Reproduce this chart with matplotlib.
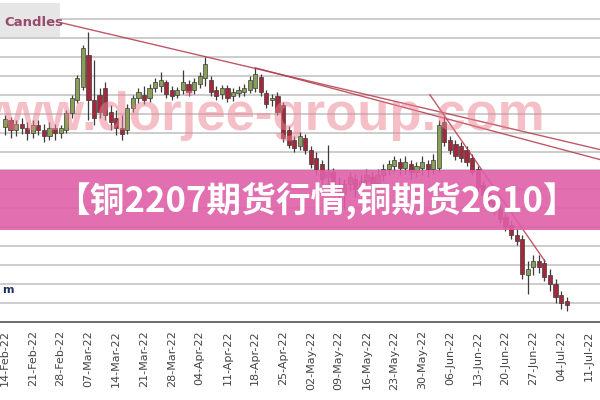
import matplotlib.pyplot as plt
from matplotlib.patches import Rectangle
import numpy as np

# daily copper candles, 14-Feb-22 .. 05-Jul-22 (trading days)
opens = [9579, 9671, 9539, 9618, 9566, 9500, 9605, 9539, 9460, 9566,
         9500, 9539, 9763, 9934, 10105, 10526, 9934, 10000, 10092, 9776,
         9697, 9566, 9539, 9829, 9960, 10000, 9960, 10092, 10118, 10171,
         10066, 10000, 10066, 10145, 10066, 10145, 10224, 10197, 10066, 10013,
         10092, 9987, 10026, 10039, 10066, 10092, 10237, 10026, 9934, 9987,
         9868, 9539, 9408, 9329, 9434, 9276, 9171, 9079, 8908, 8986,
         8802, 8684, 8815, 8881, 8776, 8855, 8908, 8829, 8934, 9013,
         9065, 9118, 9039, 9079, 8986, 9039, 9079, 9013, 9039, 9644,
         9408, 9355, 9329, 9276, 9171, 9013, 8802, 8697, 8592, 8486,
         8381, 8276, 8144, 8092, 7618, 7723, 7802, 7776, 7618, 7499,
         7355, 7276]
highs = [9737, 9710, 9671, 9697, 9644, 9671, 9671, 9618, 9644, 9618,
         9605, 9802, 10000, 10263, 10658, 10829, 10460, 10092, 10171, 9868,
         9802, 9737, 9881, 10000, 10092, 10118, 10145, 10224, 10302, 10197,
         10118, 10105, 10329, 10197, 10224, 10302, 10500, 10250, 10118, 10131,
         10131, 10092, 10118, 10145, 10250, 10355, 10276, 10066, 10013, 10039,
         9908, 9592, 9460, 9513, 9487, 9329, 9250, 9144, 9342, 9039,
         8908, 8881, 8986, 8947, 8934, 9013, 8986, 9013, 9079, 9144,
         9197, 9171, 9197, 9144, 9118, 9197, 9144, 9223, 9671, 9723,
         9460, 9408, 9381, 9329, 9223, 9065, 8855, 8750, 8644, 8552,
         8434, 8328, 8223, 8144, 7802, 7881, 7881, 7828, 7697, 7565,
         7407, 7328]
lows = [9473, 9434, 9460, 9487, 9408, 9434, 9473, 9381, 9408, 9408,
        9434, 9500, 9697, 9895, 10066, 9671, 9605, 9697, 9671, 9539,
        9473, 9408, 9487, 9776, 9895, 9881, 9908, 10039, 10039, 9960,
        9934, 9960, 10013, 9987, 10013, 10092, 10118, 9987, 9934, 9947,
        9908, 9921, 9973, 9987, 10026, 10039, 9987, 9829, 9855, 9737,
        9381, 9302, 9250, 9276, 9223, 9039, 8934, 8802, 8776, 8671,
        8552, 8486, 8723, 8644, 8697, 8776, 8750, 8750, 8855, 8934,
        8986, 8934, 8960, 8881, 8908, 8934, 8908, 8947, 8986, 9329,
        9223, 9144, 9118, 9065, 8934, 8723, 8618, 8513, 8407, 8302,
        8197, 8092, 8013, 7565, 7368, 7618, 7644, 7539, 7407, 7249,
        7170, 7144]
closes = [9684, 9539, 9618, 9566, 9500, 9605, 9539, 9460, 9566, 9500,
          9566, 9763, 9960, 10224, 10618, 9934, 9697, 9776, 9737, 9644,
          9566, 9487, 9829, 9960, 10039, 9934, 10092, 10171, 10197, 10013,
          9987, 10066, 10171, 10039, 10171, 10250, 10408, 10039, 9987, 10092,
          9960, 10039, 10066, 10092, 10197, 10276, 10039, 9881, 9960, 9776,
          9434, 9342, 9302, 9460, 9276, 9079, 9013, 8881, 8986, 8776,
          8684, 8815, 8908, 8750, 8855, 8934, 8829, 8934, 9013, 9092,
          9144, 9039, 9118, 8986, 9065, 9118, 9013, 9144, 9605, 9381,
          9276, 9197, 9171, 9118, 8986, 8776, 8671, 8565, 8460, 8355,
          8250, 8144, 8065, 7631, 7697, 7802, 7723, 7592, 7499, 7328,
          7249, 7223]

week_labels = ['14-Feb-22', '21-Feb-22', '28-Feb-22', '07-Mar-22', '14-Mar-22',
               '21-Mar-22', '28-Mar-22', '04-Apr-22', '11-Apr-22', '18-Apr-22',
               '25-Apr-22', '02-May-22', '09-May-22', '16-May-22', '23-May-22',
               '30-May-22', '06-Jun-22', '13-Jun-22', '20-Jun-22', '27-Jun-22',
               '04-Jul-22', '11-Jul-22']

# trend lines (day index, price)
trend_a = ([9.5, 107.0], [10960, 9276])
trend_b = ([45.0, 107.0], [10355, 9144])
trend_c = ([76.4, 97.1], [10000, 7802])

fig = plt.figure(figsize=(6, 4), dpi=100)
ax = fig.add_axes([0, 0.195, 1, 0.805])

idx = np.arange(len(opens))
o = np.array(opens)
c = np.array(closes)
up = c >= o
cols = np.where(up, '#8a9f55', '#a4283a')

ax.vlines(idx, lows, highs, color='#3c3c3c', lw=0.9, zorder=3)
ax.bar(idx, np.abs(c - o), bottom=np.minimum(o, c), width=0.75,
       color=cols, edgecolor='#3c3c3c', linewidth=0.5, zorder=4)

for tx, ty in (trend_a, trend_b, trend_c):
    ax.plot(tx, ty, color='#b33c4c', lw=1.0, alpha=0.85, zorder=5)

ax.set_xlim(-0.9, 107.0)
ax.set_ylim(7000, 11250)
ax.set_yticks(np.arange(7250, 11001, 250))
ax.yaxis.grid(True, color='#cccccc', lw=1.4, zorder=0)
ax.set_axisbelow(True)
ax.tick_params(axis='y', length=0, labelleft=False)
ax.set_xticks(np.arange(0, 106, 5))
ax.set_xticklabels(week_labels, rotation=90, fontsize=8, color='#444444')
ax.tick_params(axis='x', length=0, pad=6)
for s in ['top', 'right', 'left']:
    ax.spines[s].set_visible(False)
ax.spines['bottom'].set_color('#555555')
ax.spines['bottom'].set_linewidth(1.2)

# legend box remnant top left
fig.patches.append(Rectangle((0, 1 - 37 / 400), 0.1, 34 / 400,
                             transform=fig.transFigure, facecolor='#e6e6e6',
                             edgecolor='none', zorder=4))
fig.text(0.008, 1 - 22 / 400, 'Candles', fontsize=9.5, fontweight='bold',
         color='#9a4a6a', ha='left', va='center', zorder=5)
fig.text(0.003, 1 - 290 / 400, 'm', fontsize=8, fontweight='bold',
         color='#203060', ha='left', va='center', zorder=5)

# watermark
fig.text(0.908, 1 - 130 / 400, 'www.dorjee-group.com', fontsize=38,
         fontweight='bold', family='Liberation Sans', color='#ec8090',
         alpha=0.5, ha='right', va='baseline', zorder=6)

# banner
fig.patches.append(Rectangle((0, 1 - 230 / 400), 1, 60 / 400,
                             transform=fig.transFigure, facecolor='#df5fa8',
                             edgecolor='none', alpha=0.9, zorder=7))
fig.text(0.527, 0.5, '【铜2207期货行情,铜期货2610】', fontsize=25,
         fontweight='bold', family=['Noto Sans CJK SC', 'DejaVu Sans'],
         color='white', ha='center', va='center', zorder=8)

fig.savefig('out.png', dpi=100)
